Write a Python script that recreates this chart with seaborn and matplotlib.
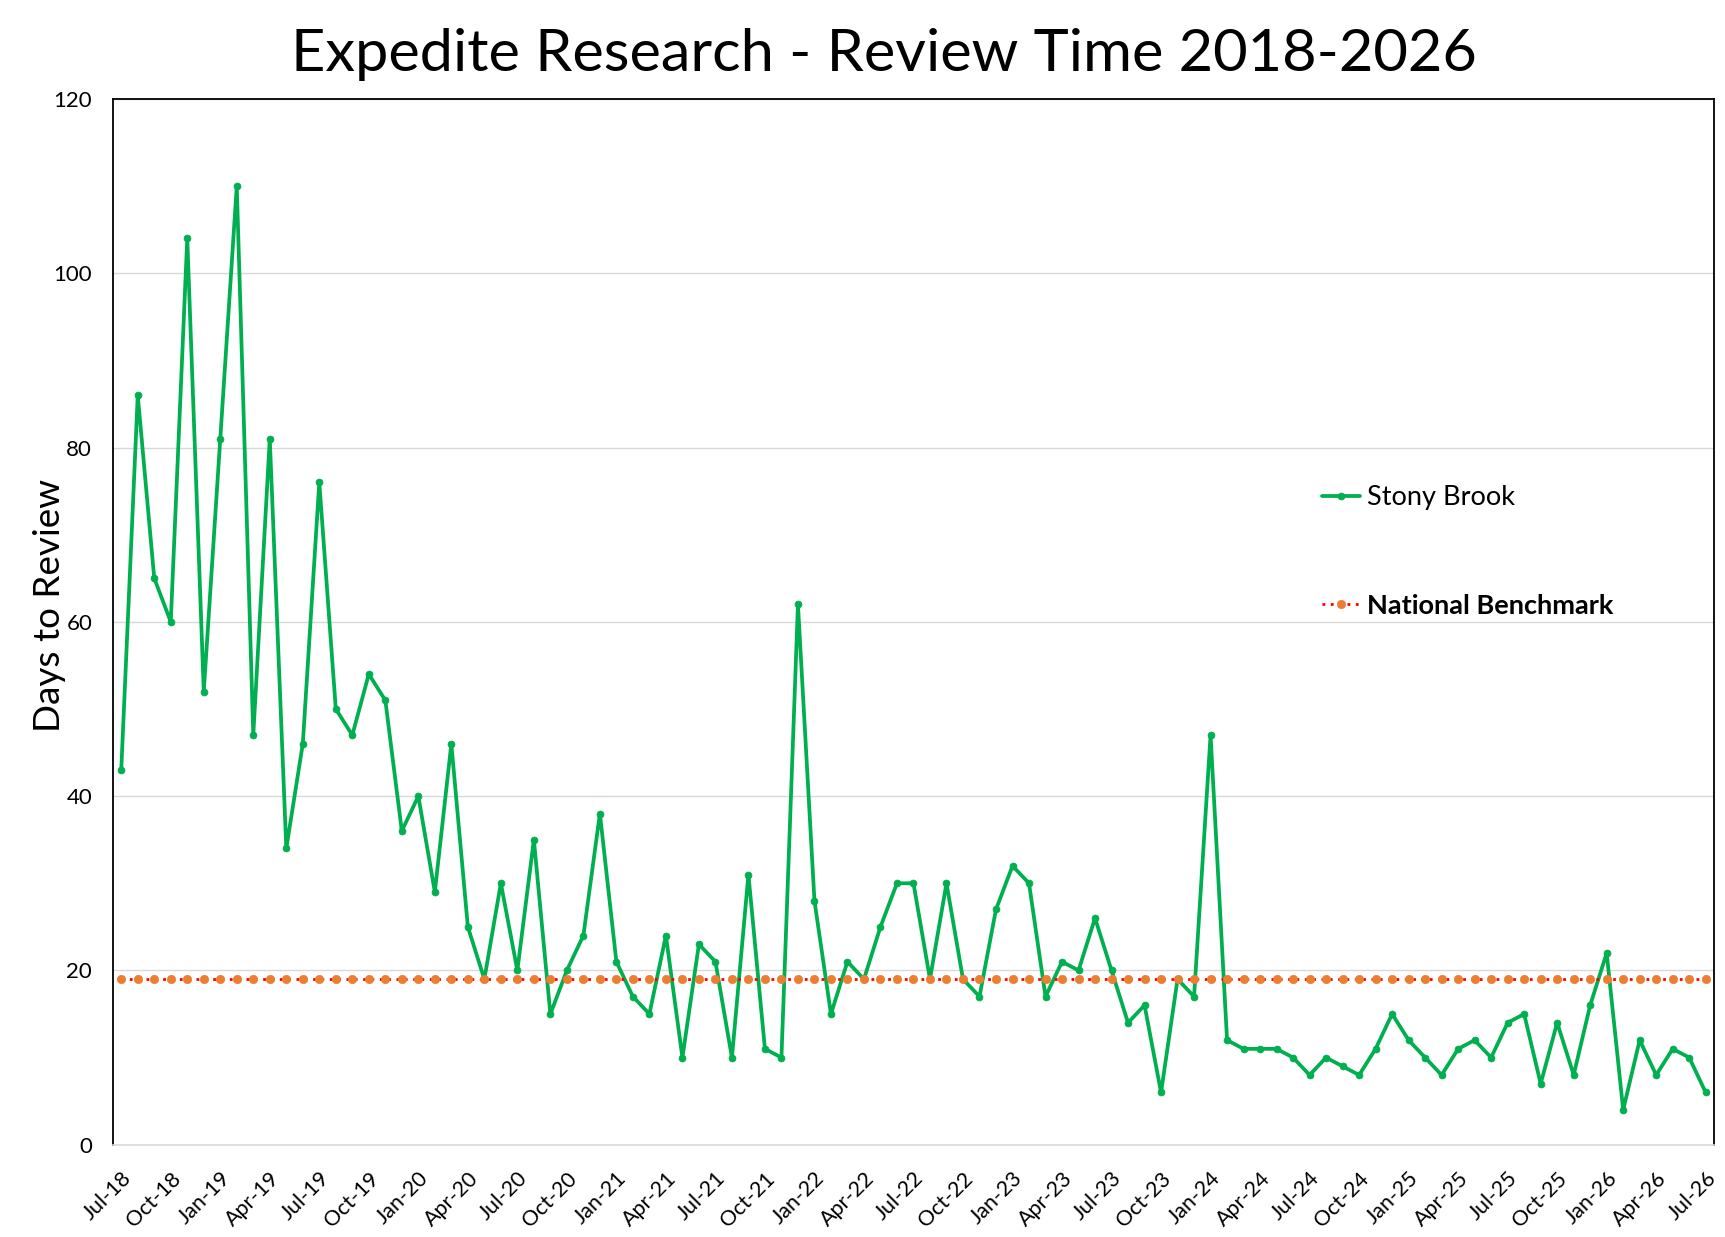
import pandas as pd
import numpy as np
import matplotlib
matplotlib.use('Agg')
import matplotlib.pyplot as plt
import seaborn as sns

# monthly review time, Jul-18 .. Jul-26
months = [d.strftime('%b-%y') for d in pd.date_range('2018-07-01', '2026-07-01', freq='MS')]
stony_brook = [43, 86, 65, 60, 104, 52, 81, 110, 47, 81, 34, 46,
               76, 50, 47, 54, 51, 36, 40, 29, 46, 25, 19, 30,
               20, 35, 15, 20, 24, 38, 21, 17, 15, 24, 10, 23,
               21, 10, 31, 11, 10, 62, 28, 15, 21, 19, 25, 30,
               30, 19, 30, 19, 17, 27, 32, 30, 17, 21, 20, 26,
               20, 14, 16, 6, 19, 17, 47, 12, 11, 11, 11, 10,
               8, 10, 9, 8, 11, 15, 12, 10, 8, 11, 12, 10,
               14, 15, 7, 14, 8, 16, 22, 4, 12, 8, 11, 10,
               6]
benchmark = [19] * len(months)
y_ticks = [0, 20, 40, 60, 80, 100, 120]

df = pd.DataFrame({'pos': range(len(months)), 'month': months,
                   'stony': stony_brook, 'bench': benchmark})

sns.set_style('white')
plt.rcParams['font.family'] = ['Lato', 'DejaVu Sans']
plt.rcParams['text.color'] = 'black'
plt.rcParams['xtick.color'] = 'black'
plt.rcParams['ytick.color'] = 'black'

fig = plt.figure(figsize=(17.25, 12.37), dpi=100)
ax = fig.add_axes([0.0655, 0.0746, 0.9281, 0.8454])

green = '#00B050'
sns.lineplot(data=df, x='pos', y='stony', ax=ax, color=green, linewidth=2.7,
             marker='o', markersize=5, markeredgecolor=green, markeredgewidth=0.5,
             label='Stony Brook', zorder=3)
sns.lineplot(data=df, x='pos', y='bench', ax=ax, color='#FF0000', linewidth=2,
             linestyle=(0, (1, 2)), marker='o', markersize=6,
             markerfacecolor='#ED7D31', markeredgecolor='#ED7D31', markeredgewidth=0.5,
             label='National Benchmark', zorder=4)

ax.set_xlim(-0.5, len(months) - 0.5)
ax.set_ylim(0, 120)
ax.set_yticks(y_ticks)
ax.set_yticklabels([str(v) for v in y_ticks])
ax.yaxis.grid(True, color='#D9D9D9', linewidth=1)
ax.set_axisbelow(True)

ax.set_xticks(df['pos'][::3])
ax.set_xticklabels(df['month'][::3], rotation=45, ha='right', va='top',
                   rotation_mode='anchor')
ax.set_xticks(np.arange(-0.5, len(months), 3), minor=True)
ax.tick_params(axis='x', which='major', length=0, pad=17, labelsize=15.5)
ax.tick_params(axis='x', which='minor', length=6, color='#D9D9D9', width=1)
ax.tick_params(axis='y', length=0, pad=15, labelsize=16)

for side in ['left', 'top', 'right']:
    ax.spines[side].set_color('black')
    ax.spines[side].set_linewidth(1.3)
ax.spines['bottom'].set_color('#D9D9D9')
ax.spines['bottom'].set_linewidth(1.2)

ax.set_xlabel('')
ax.set_ylabel('')
fig.text(50 / 1725, 1 - 605 / 1237, 'Days to Review', rotation=90,
         ha='center', va='center', fontsize=26.6)
fig.text(884 / 1725, 1 - 71 / 1237, 'Expedite Research - Review Time 2018-2026',
         ha='center', va='baseline', fontsize=42.8)

leg = ax.legend(loc='upper left', bbox_to_anchor=(1322 / 1725, 1 - 485 / 1237),
                bbox_transform=fig.transFigure, frameon=False, borderpad=0,
                borderaxespad=0, handlelength=1.4, handletextpad=0.25,
                labelspacing=3.1, fontsize=19.5)
leg.get_texts()[1].set_fontweight('bold')

fig.savefig('out.png', dpi=100)
